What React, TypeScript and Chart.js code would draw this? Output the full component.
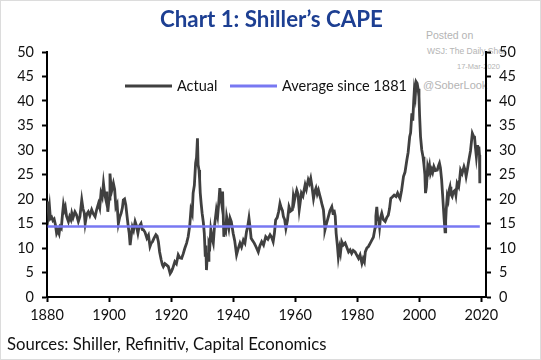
import React, { useEffect, useRef } from "react";
import { Chart, registerables } from "chart.js";

Chart.register(...registerables);

const TITLE = "Chart 1: Shiller\u2019s CAPE";
const SOURCE = "Sources: Shiller, Refinitiv, Capital Economics";
const ACTUAL_LABEL = "Actual";
const AVERAGE_LABEL = "Average since 1881";

const CAPE_YEARS = [
  1880.2, 1880.5, 1880.8, 1881.1, 1881.5, 1881.9, 1882.3, 1882.7, 1883.1, 1883.5,
  1883.9, 1884.2, 1884.6, 1885.0, 1885.3, 1885.6, 1885.9, 1886.3, 1886.9, 1887.3,
  1887.7, 1888.0, 1888.4, 1889.0, 1889.5, 1890.1, 1890.6, 1891.2, 1891.6, 1892.0,
  1892.3, 1892.8, 1893.3, 1893.8, 1894.4, 1894.9, 1895.5, 1896.0, 1896.6, 1897.0,
  1897.4, 1897.8, 1898.2, 1898.6, 1899.0, 1899.3, 1899.6, 1900.0, 1900.3, 1900.6,
  1900.9, 1901.4, 1901.8, 1902.2, 1902.6, 1903.0, 1903.4, 1903.9, 1904.3, 1904.6,
  1905.0, 1905.4, 1905.8, 1906.2, 1906.5, 1906.8, 1907.2, 1907.5, 1907.9, 1908.4,
  1908.8, 1909.3, 1909.7, 1910.3, 1910.7, 1911.1, 1911.6, 1912.2, 1912.7, 1913.2,
  1913.6, 1914.0, 1914.5, 1915.1, 1915.5, 1915.9, 1916.3, 1916.8, 1917.2, 1917.5,
  1918.0, 1918.6, 1919.1, 1919.7, 1920.1, 1920.5, 1921.2, 1921.7, 1922.3, 1922.8,
  1923.4, 1923.9, 1924.4, 1925.0, 1925.5, 1926.0, 1926.4, 1926.8, 1927.1, 1927.5,
  1927.9, 1928.2, 1928.5, 1928.7, 1929.0, 1929.2, 1929.4, 1929.7, 1930.0, 1930.4,
  1930.7, 1931.0, 1931.2, 1931.4, 1931.7, 1932.0, 1932.2, 1932.5, 1932.8, 1933.2,
  1933.6, 1934.0, 1934.6, 1935.0, 1935.4, 1935.7, 1936.0, 1936.3, 1936.6, 1937.0,
  1937.3, 1937.6, 1937.9, 1938.3, 1938.6, 1939.0, 1939.4, 1940.0, 1940.5, 1941.1,
  1941.6, 1942.2, 1942.7, 1943.3, 1943.8, 1944.3, 1944.7, 1945.1, 1945.4, 1945.8,
  1946.3, 1946.8, 1947.4, 1948.1, 1948.6, 1949.2, 1949.8, 1950.5, 1951.2, 1951.9,
  1952.4, 1952.9, 1953.3, 1953.7, 1954.2, 1954.7, 1955.1, 1955.5, 1955.9, 1956.2,
  1956.6, 1957.0, 1957.5, 1958.0, 1958.5, 1959.1, 1959.4, 1959.7, 1960.0, 1960.5,
  1960.9, 1961.3, 1961.6, 1962.0, 1962.5, 1963.2, 1963.6, 1964.2, 1964.6, 1965.0,
  1965.4, 1965.9, 1966.3, 1966.7, 1967.1, 1967.5, 1967.9, 1968.2, 1968.6, 1969.1,
  1969.4, 1969.6, 1970.1, 1970.7, 1971.2, 1971.8, 1972.2, 1972.5, 1972.9, 1973.2,
  1973.6, 1973.9, 1974.3, 1974.6, 1975.0, 1975.5, 1976.1, 1976.6, 1977.2, 1977.7,
  1978.2, 1978.7, 1979.3, 1979.8, 1980.4, 1980.9, 1981.5, 1981.9, 1982.3, 1982.6,
  1983.1, 1983.6, 1984.2, 1984.7, 1985.2, 1985.8, 1986.0, 1986.3, 1986.6, 1987.0,
  1987.2, 1987.5, 1987.9, 1988.4, 1989.0, 1989.5, 1990.0, 1990.4, 1990.8, 1991.3,
  1991.9, 1992.5, 1993.0, 1993.4, 1993.8, 1994.3, 1994.9, 1995.4, 1996.0, 1996.4,
  1996.9, 1997.2, 1997.6, 1997.9, 1998.2, 1998.4, 1998.7, 1999.0, 1999.3, 1999.6,
  1999.9, 2000.1, 2000.4, 2000.8, 2001.2, 2001.5, 2001.8, 2002.0, 2002.3, 2002.7,
  2003.0, 2003.3, 2003.6, 2004.0, 2004.3, 2004.7, 2005.2, 2005.8, 2006.2, 2006.5,
  2006.8, 2007.2, 2007.5, 2007.8, 2008.0, 2008.3, 2008.5, 2008.7, 2009.0, 2009.3,
  2009.6, 2009.9, 2010.2, 2010.6, 2011.0, 2011.5, 2011.8, 2012.2, 2012.7, 2013.0,
  2013.3, 2013.8, 2014.4, 2014.8, 2015.1, 2015.5, 2016.0, 2016.5, 2017.1, 2017.5,
  2017.8, 2018.1, 2018.4, 2018.8, 2019.0, 2019.2, 2019.4, 2019.5,
];

const CAPE_VALUES = [
  19.5, 17.0, 18.5, 16.0, 16.3, 15.6, 15.9, 14.8, 13.0, 13.6,
  12.9, 14.3, 14.0, 16.9, 18.8, 17.8, 18.4, 16.5, 15.4, 16.4,
  15.8, 17.1, 16.2, 17.4, 16.8, 15.4, 16.4, 19.8, 18.0, 17.2,
  15.0, 16.9, 17.4, 16.6, 17.8, 17.0, 16.4, 17.8, 19.1, 18.2,
  21.2, 20.4, 23.2, 21.0, 19.8, 21.5, 17.4, 20.0, 25.2, 22.8,
  21.8, 23.2, 22.0, 18.4, 19.0, 15.0, 16.2, 17.1, 18.2, 19.8,
  20.0, 18.8, 16.5, 14.3, 13.0, 10.6, 12.8, 14.3, 13.6, 15.4,
  14.6, 13.0, 14.4, 15.0, 13.8, 13.7, 13.2, 12.0, 12.6, 10.3,
  11.0, 11.3, 12.0, 12.7, 12.4, 11.3, 9.2, 7.6, 6.6, 6.2,
  6.8, 6.5, 6.2, 4.8, 5.2, 5.8, 7.2, 6.8, 8.6, 8.0,
  7.9, 8.8, 9.9, 11.0, 12.3, 14.5, 17.8, 17.0, 21.2, 22.8,
  27.3, 28.5, 32.4, 27.0, 25.9, 24.0, 21.2, 19.0, 17.1, 15.2,
  13.0, 8.5, 10.5, 5.5, 9.0, 7.5, 11.0, 10.5, 13.7, 12.0,
  11.0, 14.5, 17.8, 16.5, 19.5, 22.2, 20.5, 19.1, 21.5, 12.3,
  14.0, 13.5, 16.4, 15.0, 14.0, 16.1, 15.4, 13.0, 11.5, 8.6,
  9.8, 11.0, 10.2, 11.6, 11.0, 13.3, 14.4, 16.1, 14.5, 12.0,
  11.5, 11.0, 10.2, 9.2, 10.4, 11.3, 10.6, 12.3, 11.8, 12.7,
  12.2, 11.3, 13.0, 15.7, 16.2, 17.5, 19.1, 18.2, 17.6, 16.4,
  15.8, 14.0, 15.6, 18.4, 17.5, 17.8, 20.5, 19.5, 20.5, 21.8,
  21.0, 17.8, 19.2, 21.2, 20.6, 22.9, 22.0, 23.9, 23.2, 24.2,
  22.6, 20.1, 21.5, 22.2, 21.0, 21.8, 20.8, 20.1, 19.0, 17.8,
  15.5, 13.7, 15.0, 16.4, 17.6, 18.4, 17.0, 17.8, 16.5, 13.0,
  10.5, 8.2, 10.0, 9.0, 11.3, 10.6, 11.0, 10.2, 9.2, 9.6,
  8.9, 9.5, 9.2, 8.6, 7.9, 8.6, 6.9, 7.8, 7.2, 9.2,
  10.0, 10.3, 11.0, 11.6, 12.2, 14.3, 16.5, 18.4, 16.0, 15.5,
  14.3, 16.2, 17.1, 15.8, 15.4, 16.2, 16.7, 18.0, 20.1, 20.4,
  20.8, 20.5, 21.2, 20.6, 20.1, 21.8, 24.6, 25.5, 28.0, 29.5,
  32.7, 33.5, 37.5, 36.0, 40.0, 42.2, 41.0, 43.9, 43.6, 42.5,
  40.9, 37.0, 32.7, 30.0, 28.6, 27.0, 25.0, 21.2, 22.5, 26.6,
  25.8, 26.8, 25.2, 26.0, 25.4, 26.6, 25.8, 25.9, 26.8, 27.3,
  26.4, 23.9, 21.0, 18.0, 16.0, 13.3, 15.5, 18.0, 20.5, 19.8,
  21.8, 22.5, 21.0, 20.5, 21.5, 21.8, 20.8, 23.2, 22.5, 24.0,
  25.9, 25.2, 26.6, 25.8, 24.6, 26.0, 28.0, 29.8, 33.4, 32.8,
  32.7, 30.5, 28.6, 31.0, 29.5, 30.7, 29.0, 23.2,
];

const AVERAGE_VALUE = 14.4;
const AVERAGE_YEARS = [1880.2, 2019.5];

const X_TICKS = [1880, 1900, 1920, 1940, 1960, 1980, 2000, 2020];
const Y_TICKS = [0, 5, 10, 15, 20, 25, 30, 35, 40, 45, 50];

const ACTUAL_COLOR = "#404040";
const AVERAGE_COLOR = "#7878f2";
const FONT = "Lato, 'Open Sans', sans-serif";

const legendPlugin = {
  id: "insideLegend",
  afterDraw(chart: any) {
    const ctx = chart.ctx;
    const items = [
      { x: 125, ds: chart.data.datasets[0] },
      { x: 230, ds: chart.data.datasets[1] },
    ];
    const y = 86;
    ctx.save();
    ctx.font = `14.5px ${FONT}`;
    ctx.textBaseline = "middle";
    for (const it of items) {
      ctx.strokeStyle = it.ds.borderColor;
      ctx.lineWidth = 3;
      ctx.beginPath();
      ctx.moveTo(it.x, y);
      ctx.lineTo(it.x + 47, y);
      ctx.stroke();
      ctx.fillStyle = "#111";
      ctx.fillText(it.ds.label, it.x + 52, y);
    }
    ctx.restore();
  },
};

function yAxis(position: "left" | "right", width: number) {
  return {
    type: "linear" as const,
    position,
    min: 0,
    max: 50,
    afterBuildTicks: (s: any) => {
      s.ticks = Y_TICKS.map((v) => ({ value: v }));
    },
    afterFit: (s: any) => {
      s.width = width;
    },
    ticks: {
      color: "#111",
      font: { size: 14.5, family: FONT },
      padding: 8,
    },
    grid: {
      drawOnChartArea: false,
      drawTicks: true,
      tickLength: 5,
      tickColor: "#000",
      tickWidth: 2,
    },
    border: { display: true, color: "#000", width: 2 },
  };
}

export default function App() {
  const ref = useRef<HTMLCanvasElement>(null);

  useEffect(() => {
    if (!ref.current) return;
    const chart = new Chart(ref.current, {
      type: "line",
      data: {
        datasets: [
          {
            label: ACTUAL_LABEL,
            data: CAPE_YEARS.map((x, i) => ({ x, y: CAPE_VALUES[i] })),
            borderColor: ACTUAL_COLOR,
            backgroundColor: ACTUAL_COLOR,
            borderWidth: 2.8,
            pointRadius: 0,
            tension: 0,
            yAxisID: "yLeft",
            order: 1,
          },
          {
            label: AVERAGE_LABEL,
            data: AVERAGE_YEARS.map((x) => ({ x, y: AVERAGE_VALUE })),
            borderColor: AVERAGE_COLOR,
            backgroundColor: AVERAGE_COLOR,
            borderWidth: 2.5,
            pointRadius: 0,
            yAxisID: "yLeft",
            order: 0,
          },
        ],
      },
      options: {
        animation: false,
        responsive: false,
        layout: { padding: { top: 52, left: 0, right: 0, bottom: 0 } },
        plugins: {
          legend: { display: false },
          tooltip: { enabled: false },
          title: { display: false },
        },
        scales: {
          x: {
            type: "linear",
            min: 1880,
            max: 2021.5,
            afterBuildTicks: (s: any) => {
              s.ticks = X_TICKS.map((v) => ({ value: v }));
            },
            afterFit: (s: any) => {
              s.height = 63;
            },
            ticks: {
              color: "#111",
              font: { size: 14.5, family: FONT },
              padding: 5,
              maxRotation: 0,
              autoSkip: false,
              callback: (v: any) => String(v),
            },
            grid: {
              drawOnChartArea: false,
              drawTicks: true,
              tickLength: 5,
              tickColor: "#000",
              tickWidth: 2,
            },
            border: { display: true, color: "#000", width: 2 },
          },
          yLeft: yAxis("left", 47),
          yRight: yAxis("right", 55),
        },
      },
      plugins: [legendPlugin],
    });
    return () => chart.destroy();
  }, []);

  const wm = {
    position: "absolute" as const,
    fontFamily: "'Liberation Sans', Arial, sans-serif",
    color: "#b4b4b4",
    whiteSpace: "nowrap" as const,
    lineHeight: 1,
  };

  return (
    <div
      style={{
        position: "absolute",
        left: 0,
        top: 0,
        width: 541,
        height: 360,
        background: "#fff",
        overflow: "hidden",
      }}
    >
      <div style={{ ...wm, left: 426, top: 30, fontSize: 10.5 }}>Posted on</div>
      <div style={{ ...wm, left: 427, top: 47, fontSize: 8.5 }}>WSJ: The Daily Shot</div>
      <div style={{ ...wm, left: 457, top: 63, fontSize: 7.5 }}>17-Mar-2020</div>
      <div style={{ ...wm, left: 423, top: 80, fontSize: 11 }}>@SoberLook</div>
      <canvas
        ref={ref}
        width={541}
        height={360}
        style={{ position: "absolute", left: 0, top: 0, width: 541, height: 360 }}
      />
      <div
        style={{
          position: "absolute",
          left: 160,
          top: 8,
          fontFamily: FONT,
          fontWeight: 700,
          fontSize: 22.3,
          lineHeight: 1,
          color: "#1d3f92",
          whiteSpace: "nowrap",
        }}
      >
        {TITLE}
      </div>
      <div
        style={{
          position: "absolute",
          left: 7,
          top: 336,
          fontFamily: FONT,
          fontSize: 16.7,
          lineHeight: 1,
          color: "#111",
          whiteSpace: "nowrap",
        }}
      >
        {SOURCE}
      </div>
      <div
        style={{
          position: "absolute",
          left: 0,
          top: 0,
          width: 541,
          height: 360,
          boxSizing: "border-box",
          border: "1px solid #dcdcdc",
          pointerEvents: "none",
        }}
      />
    </div>
  );
}
